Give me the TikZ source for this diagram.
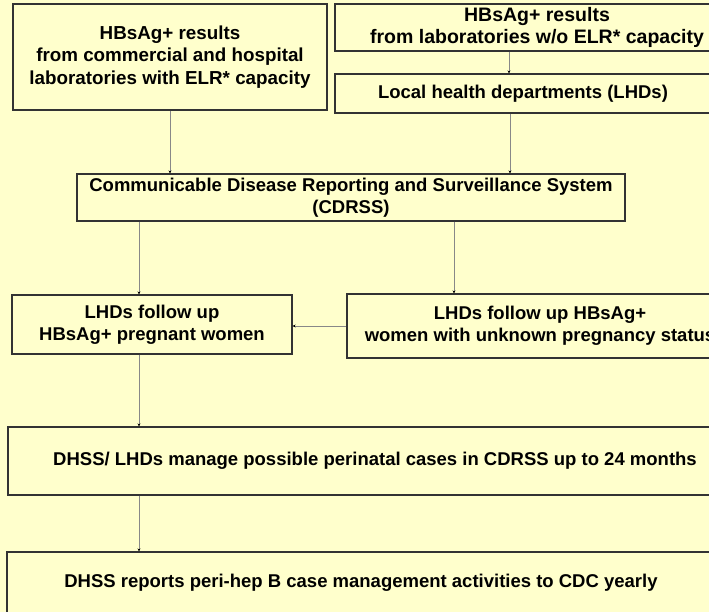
\documentclass[tikz,border=0pt]{standalone}
\usepackage{fontspec}
\setmainfont{Liberation Sans}
\usetikzlibrary{arrows.meta}
\definecolor{bgyellow}{HTML}{FFFFCC}
\definecolor{boxline}{HTML}{333333}
\definecolor{conn}{HTML}{888888}
\tikzset{
  box/.style={draw=boxline, line width=1.2bp, fill=bgyellow, rectangle, align=center,
    font=\fontsize{18.5bp}{22bp}\selectfont\bfseries, inner sep=0pt},
  link/.style={draw=conn, line width=0.7bp, -{Stealth[length=3bp,width=3bp,black]}}
}
\begin{document}
\begin{tikzpicture}[x=1bp,y=-1bp]
\useasboundingbox (0,0) rectangle (709,612);
\fill[bgyellow] (0,0) rectangle (709,612);
\begin{scope}
\clip (0,0) rectangle (709,612);
\node[box, minimum width=314bp, minimum height=106bp, font=\fontsize{18.8bp}{22.5bp}\selectfont\bfseries] (lab1) at (170,57)
  {HBsAg+ results\\from commercial and hospital\\laboratories with ELR* capacity};
\node[box, minimum width=404bp, minimum height=47bp, font=\fontsize{19.5bp}{22bp}\selectfont\bfseries] (lab2) at (537,27.5)
  {HBsAg+ results\\from laboratories w/o ELR* capacity};
\node[box, minimum width=376bp, minimum height=39bp] (lhd) at (523,93.5)
  {Local health departments (LHDs)};
\node[box, minimum width=548bp, minimum height=47bp] (cdrss) at (351,197.5)
  {Communicable Disease Reporting and Surveillance System\\(CDRSS)};
\node[box, minimum width=280bp, minimum height=59bp] (fuL) at (152,324.5)
  {LHDs follow up\\HBsAg+ pregnant women};
\node[box, minimum width=386bp, minimum height=64bp] (fuR) at (540,326)
  {LHDs follow up HBsAg+\\women with unknown pregnancy status};
\node[box, minimum width=734bp, minimum height=68bp] (manage) at (375,461)
  {DHSS/ LHDs manage possible perinatal cases in CDRSS up to 24 months};
\node[box, minimum width=708bp, minimum height=62bp] (report) at (361,583)
  {DHSS reports peri-hep B case management activities to CDC yearly};

\draw[link] (lab1.south) -- (lab1.south |- cdrss.north);
\draw[link] ([xshift=-28bp]lab2.south) -- ([xshift=-28bp]lab2.south |- lhd.north);
\draw[link] ([xshift=-13bp]lhd.south) -- ([xshift=-13bp]lhd.south |- cdrss.north);
\draw[link] ([xshift=-212bp]cdrss.south) -- ([xshift=-212bp]cdrss.south |- fuL.north);
\draw[link] ([xshift=103bp]cdrss.south) -- ([xshift=103bp]cdrss.south |- fuR.north);
\draw[link] (fuR.west) -- (fuR.west -| fuL.east);
\draw[link] ([xshift=-13bp]fuL.south) -- ([xshift=-13bp]fuL.south |- manage.north);
\draw[link] ([xshift=-236bp]manage.south) -- ([xshift=-236bp]manage.south |- report.north);
\end{scope}
\end{tikzpicture}
\end{document}
